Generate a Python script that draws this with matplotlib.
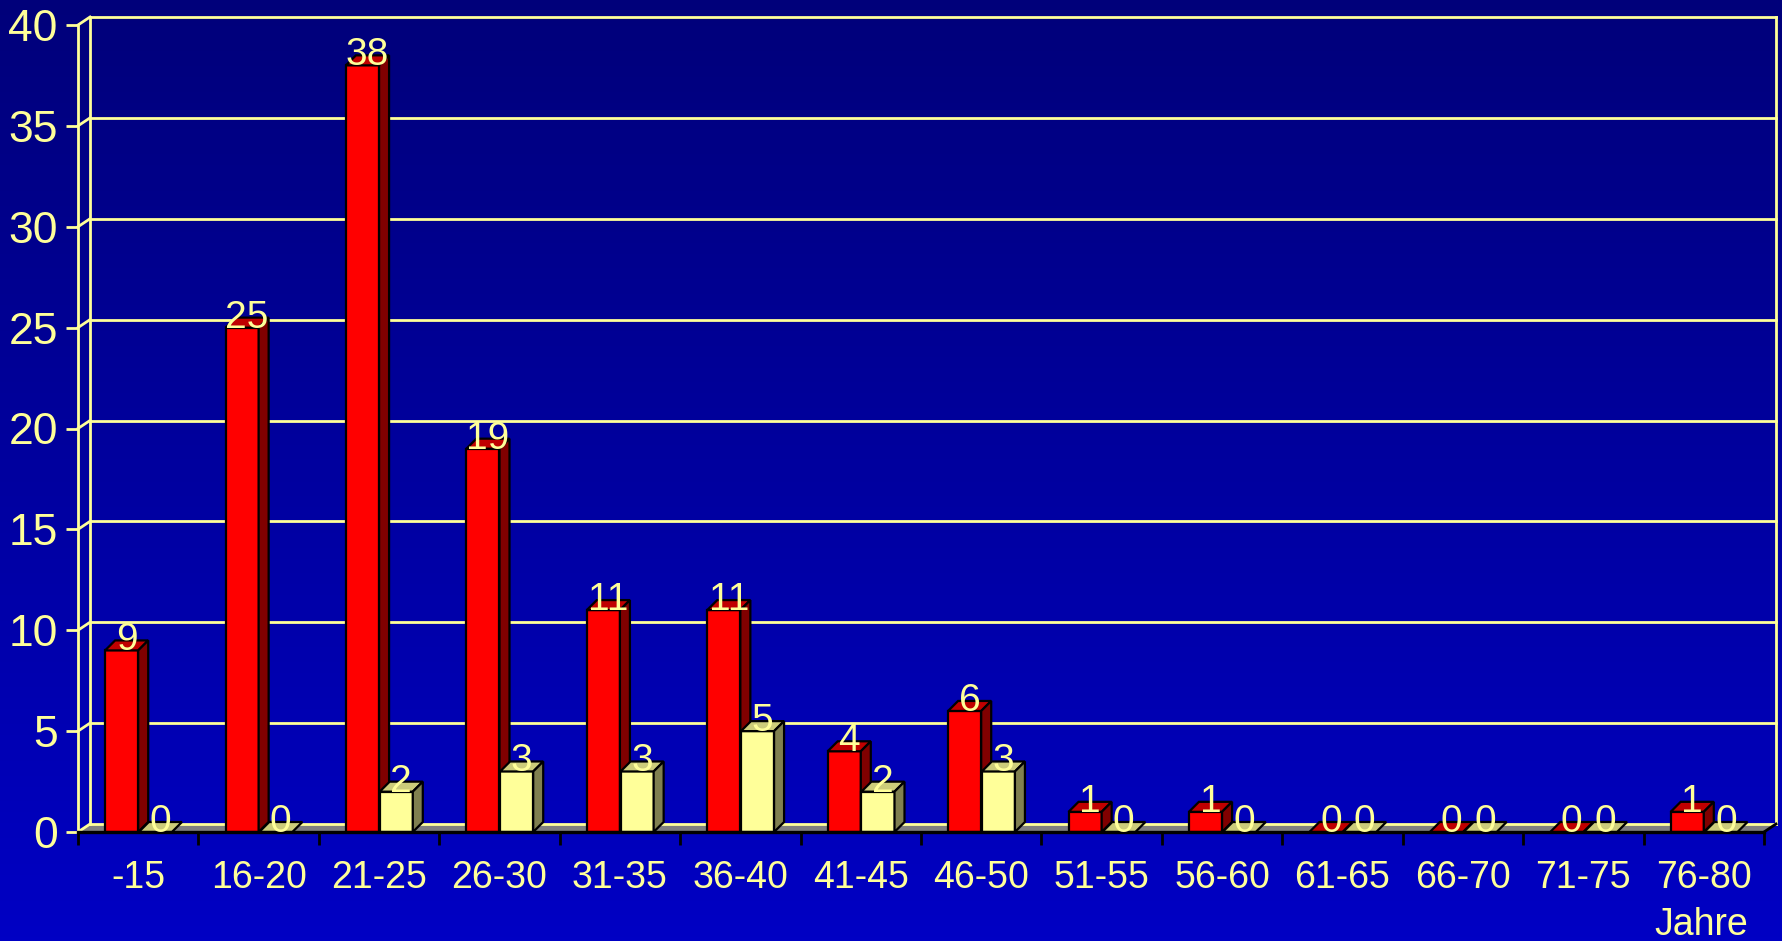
import matplotlib.pyplot as plt
import numpy as np
from matplotlib.patches import Polygon
from matplotlib.colors import LinearSegmentedColormap

# data
categories = ['-15', '16-20', '21-25', '26-30', '31-35', '36-40', '41-45',
              '46-50', '51-55', '56-60', '61-65', '66-70', '71-75', '76-80']
red_values = [9, 25, 38, 19, 11, 11, 4, 6, 1, 1, 0, 0, 0, 1]
yellow_values = [0, 0, 2, 3, 3, 5, 2, 3, 0, 0, 0, 0, 0, 0]
yticks = [0, 5, 10, 15, 20, 25, 30, 35, 40]

narrow = ['Liberation Sans Narrow', 'Liberation Sans', 'DejaVu Sans']
wide = ['Liberation Sans', 'DejaVu Sans']

W, H = 1783, 941
fig = plt.figure(figsize=(W / 100, H / 100), dpi=100)

# background gradient
bg = fig.add_axes([0, 0, 1, 1], zorder=-10)
cmap = LinearSegmentedColormap.from_list('bg', ['#00007A', '#0000C4'])
bg.imshow(np.linspace(0, 1, 256).reshape(-1, 1), aspect='auto', cmap=cmap,
          extent=[0, 1, 0, 1])
bg.axis('off')

# front plot area in pixels
x0, x1 = 78, 1764
y0, y1 = 832, 25
ax = fig.add_axes([x0 / W, (H - y0) / H, (x1 - x0) / W, (y0 - y1) / H])
ax.set_facecolor('none')
n = len(categories)
ax.set_xlim(0, n)
ax.set_ylim(0, 40)

pxx = (x1 - x0) / n
pxy = (y0 - y1) / 40.0
wdx, wdy = 12 / pxx, 8 / pxy      # wall depth
bdx, bdy = 10 / pxx, 10 / pxy     # bar depth
yel = '#FFFF99'
glw = 2.0

# floor
ax.add_patch(Polygon([(0, 0), (n, 0), (n + wdx, wdy), (wdx, wdy)],
                     closed=True, facecolor='#808080', edgecolor='none',
                     zorder=1, clip_on=False))
# back wall grid
for v in yticks:
    ax.plot([wdx, n + wdx], [v + wdy, v + wdy], color=yel, lw=glw,
            zorder=1.5, clip_on=False)
    ax.plot([0, wdx], [v, v + wdy], color=yel, lw=glw, zorder=1.5,
            clip_on=False)
for xx in [wdx, n + wdx]:
    ax.plot([xx, xx], [wdy, 40 + wdy], color=yel, lw=glw, zorder=1.5,
            clip_on=False)
ax.plot([n, n + wdx], [0, wdy], color='black', lw=2, zorder=1.6, clip_on=False)


def draw_bar(left, width, h, front, top, side):
    ax.bar(left, h, width=width, align='edge', color=front, edgecolor='black',
           linewidth=1.6, zorder=3)
    r = left + width
    ax.add_patch(Polygon([(left, h), (r, h), (r + bdx, h + bdy),
                          (left + bdx, h + bdy)], closed=True,
                         facecolor=top, edgecolor='black', lw=1.6, zorder=3,
                         clip_on=False))
    if h > 0:
        ax.add_patch(Polygon([(r, 0), (r + bdx, bdy), (r + bdx, h + bdy),
                              (r, h)], closed=True, facecolor=side,
                             edgecolor='black', lw=1.6, zorder=3,
                             clip_on=False))
    ax.text(left + width / 2 + bdx / 2, h, str(h), color=yel, fontsize=28,
            ha='center', va='baseline', zorder=5, family=narrow)


bw = 0.275
for i in range(n):
    draw_bar(i + 0.225, bw, red_values[i], '#FF0000', '#C00000', '#800000')
    draw_bar(i + 0.505, bw, yellow_values[i], yel, '#CCCC7A', '#808050')

# axes styling
for s in ['top', 'right']:
    ax.spines[s].set_visible(False)
ax.spines['left'].set_color(yel)
ax.spines['left'].set_linewidth(glw)
ax.spines['bottom'].set_color('black')
ax.spines['bottom'].set_linewidth(2.4)
ax.spines['bottom'].set_zorder(4)

ax.set_yticks(yticks)
ax.set_yticklabels([str(v) for v in yticks], fontsize=32, family=narrow)
ax.tick_params(axis='y', colors=yel, length=8.5, width=glw, pad=6)

ax.set_xticks(np.arange(n + 1))
ax.set_xticklabels([])
ax.set_xticks(np.arange(n) + 0.5, minor=True)
ax.set_xticklabels(categories, minor=True, fontsize=27, color=yel, family=wide)
ax.tick_params(axis='x', which='major', color='black', length=9.5, width=2)
ax.tick_params(axis='x', which='minor', length=0, pad=20)

fig.text(1748 / W, (H - 935) / H, 'Jahre', color=yel, fontsize=27,
         ha='right', va='baseline', family=wide)

fig.savefig('out.png', dpi=100)
